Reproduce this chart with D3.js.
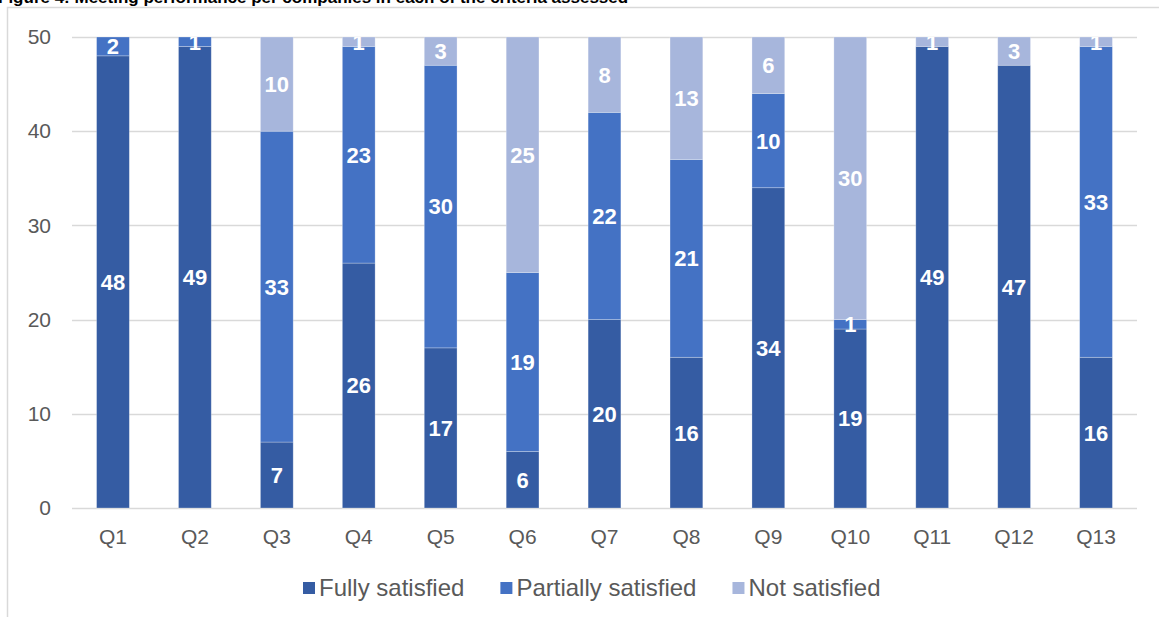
<!DOCTYPE html>
<html>
<head>
<meta charset="utf-8">
<script src="https://cdn.jsdelivr.net/npm/d3@7"></script>
<style>
  html, body { margin: 0; padding: 0; background: #fff; }
  svg { display: block; font-family: "Liberation Sans", Arial, sans-serif; }
</style>
</head>
<body>
<svg id="chart" width="1159" height="617"></svg>
<script>
// Survey results per question
const questions = ["Q1","Q2","Q3","Q4","Q5","Q6","Q7","Q8","Q9","Q10","Q11","Q12","Q13"];
const fullySatisfied     = [48, 49, 7, 26, 17, 6, 20, 16, 34, 19, 49, 47, 16];
const partiallySatisfied = [2, 1, 33, 23, 30, 19, 22, 21, 10, 1, 0, 0, 33];
const notSatisfied       = [0, 0, 10, 1, 3, 25, 8, 13, 6, 30, 1, 3, 1];
const seriesNames = ["Fully satisfied", "Partially satisfied", "Not satisfied"];
const yTicks = [0, 10, 20, 30, 40, 50];
const titleText = "Figure 4: Meeting performance per companies in each of the criteria assessed";

const colors = ["#355CA3", "#4472C4", "#A7B6DC"];

const svg = d3.select("#chart");
const W = 1159, H = 617;
const plot = { left: 72, right: 1137, top: 37, bottom: 508 };

// Outer chart frame (partly outside the view)
svg.append("rect")
  .attr("x", 7.5).attr("y", 7.5)
  .attr("width", W + 20).attr("height", H + 20)
  .attr("fill", "none").attr("stroke", "#D9D9D9").attr("stroke-width", 1.5);

// Title, mostly above the visible area
svg.append("text")
  .attr("x", -2).attr("y", 3)
  .attr("font-size", 17).attr("font-weight", "bold").attr("fill", "#000")
  .text(titleText);

const rows = questions.map((q, i) => ({
  q, fully: fullySatisfied[i], partially: partiallySatisfied[i], not: notSatisfied[i]
}));
const keys = ["fully", "partially", "not"];
const stacked = d3.stack().keys(keys)(rows);

const x = d3.scaleBand().domain(questions)
  .range([plot.left, plot.right]).paddingInner(0.6).paddingOuter(0.3);
const y = d3.scaleLinear().domain([0, 50]).range([plot.bottom, plot.top]);

// Gridlines
svg.append("g").selectAll("line").data(yTicks).join("line")
  .attr("x1", plot.left).attr("x2", plot.right)
  .attr("y1", d => Math.round(y(d)) + 0.5).attr("y2", d => Math.round(y(d)) + 0.5)
  .attr("stroke", "#D9D9D9").attr("stroke-width", 1.5);

// Y axis tick labels
const yAxis = d3.axisLeft(y).tickValues(yTicks).tickSize(0).tickPadding(0);
const gy = svg.append("g").attr("transform", `translate(51,0)`).call(yAxis);
gy.select(".domain").remove();
gy.selectAll("text").attr("font-size", 21).attr("fill", "#595959")
  .attr("font-family", "Liberation Sans, Arial, sans-serif");

// X axis category labels
const xAxis = d3.axisBottom(x).tickSize(0).tickPadding(0);
const gx = svg.append("g").attr("transform", `translate(0,${plot.bottom + 21})`).call(xAxis);
gx.select(".domain").remove();
gx.selectAll("text").attr("font-size", 21).attr("fill", "#595959")
  .attr("font-family", "Liberation Sans, Arial, sans-serif");

// Stacked bars
const layers = svg.append("g").selectAll("g").data(stacked).join("g")
  .attr("fill", (d, i) => colors[i]);
layers.selectAll("rect").data(d => d.map(s => ({ s, q: s.data.q }))).join("rect")
  .attr("x", d => x(d.q))
  .attr("width", x.bandwidth())
  .attr("y", d => y(d.s[1]))
  .attr("height", d => y(d.s[0]) - y(d.s[1]))
  .attr("stroke", "rgba(255,255,255,0.35)").attr("stroke-width", 0.75);

// Value labels, clipped to the plot area
svg.append("clipPath").attr("id", "plotClip").append("rect")
  .attr("x", plot.left).attr("y", plot.top).attr("width", plot.right - plot.left)
  .attr("height", plot.bottom - plot.top);
const labels = svg.append("g").attr("clip-path", "url(#plotClip)");
stacked.forEach(layer => {
  labels.selectAll(null).data(layer.filter(s => s[1] - s[0] > 0)).join("text")
    .attr("x", s => x(s.data.q) + x.bandwidth() / 2)
    .attr("y", s => y((s[0] + s[1]) / 2))
    .attr("dy", "0.36em")
    .attr("text-anchor", "middle")
    .attr("font-size", 22).attr("font-weight", "bold").attr("fill", "#fff")
    .text(s => s[1] - s[0]);
});

// Legend: swatch + label, laid out left to right
const legend = svg.append("g").attr("transform", "translate(303,588)");
let lx = 0;
seriesNames.forEach((name, i) => {
  const g = legend.append("g").attr("transform", `translate(${lx},0)`);
  g.append("rect").attr("x", 0).attr("y", -6).attr("width", 12).attr("height", 12).attr("fill", colors[i]);
  const t = g.append("text").attr("x", 16).attr("y", 0).attr("dy", "0.35em")
    .attr("font-size", 24).attr("fill", "#595959").text(name);
  lx += 16 + t.node().getComputedTextLength() + 36;
});
</script>
</body>
</html>
